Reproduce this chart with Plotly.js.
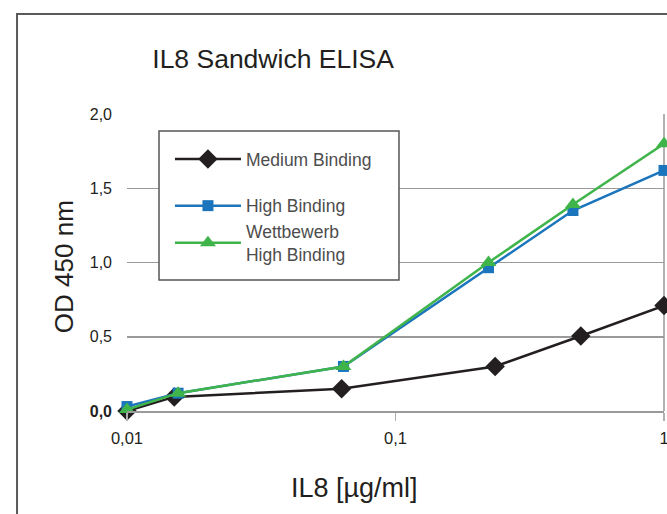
<!DOCTYPE html>
<html>
<head>
<meta charset="utf-8">
<script src="https://cdn.plot.ly/plotly-3.0.1.min.js"></script>
<style>html,body{margin:0;padding:0;background:#fff;}#chart{width:667px;height:514px;}</style>
</head>
<body>
<div id="chart"></div>
<script>
// Data
var mediumX = [0.01, 0.015, 0.063, 0.235, 0.49, 1];
var mediumY = [0.0, 0.095, 0.15, 0.30, 0.505, 0.71];
var highX = [0.01, 0.0155, 0.064, 0.222, 0.458, 1];
var highY = [0.03, 0.12, 0.30, 0.965, 1.35, 1.62];
var wettX = [0.01, 0.0155, 0.064, 0.222, 0.458, 1];
var wettY = [0.01, 0.12, 0.30, 1.0, 1.39, 1.80];
var seriesNames = ["Medium Binding", "High Binding", "Wettbewerb<br>High Binding"];
var yTickVals = [0, 0.5, 1, 1.5, 2];
var yTickText = ["<b>0,0</b>", "0,5", "1,0", "1,5", "2,0"];
var xTickVals = [0.01, 0.1, 1];
var xTickText = ["0,01", "0,1", "1"];

var sans = "Liberation Sans, Arial, Helvetica, sans-serif";

var traces = [
  {x: mediumX, y: mediumY, name: seriesNames[0], mode: "lines+markers", cliponaxis: false,
   line: {color: "#231f20", width: 2.5}, marker: {symbol: "diamond", size: 15, color: "#231f20"}, legendgroup: "a"},
  {x: highX, y: highY, name: seriesNames[1], mode: "lines+markers", cliponaxis: false,
   line: {color: "#1b75bc", width: 2.5}, marker: {symbol: "square", size: 11, color: "#1b75bc"}, legendgroup: "b"},
  {x: wettX, y: wettY, name: seriesNames[2], mode: "lines+markers", cliponaxis: false,
   line: {color: "#3fb44b", width: 2.5}, marker: {symbol: "triangle-up", size: 14, color: "#3fb44b"}, legendgroup: "b"}
];

var layout = {
  width: 667, height: 514,
  margin: {l: 127, r: 3, t: 114, b: 103},
  paper_bgcolor: "#fff", plot_bgcolor: "#fff",
  showlegend: true,
  title: {text: "IL8 Sandwich ELISA", xref: "paper", x: 0.272, xanchor: "center",
          yref: "container", y: 0.886, yanchor: "middle",
          font: {family: sans, size: 26.5, color: "#231f20"}},
  xaxis: {type: "log", range: [-2, 0], tickvals: xTickVals, ticktext: xTickText,
          showgrid: false, zeroline: false, showline: true, linecolor: "#9a9a9a", linewidth: 1.5,
          ticks: "outside", ticklen: 8, tickcolor: "#b0b0b0", tickwidth: 1.5, ticklabelstandoff: 4,
          ticklabeloverflow: "allow",
          tickfont: {family: sans, size: 16.5, color: "#231f20"}},
  yaxis: {range: [0, 2], tickvals: yTickVals, ticktext: yTickText, showgrid: true,
          gridcolor: "#9a9a9a", gridwidth: 1.5, zeroline: false, showline: false,
          ticks: "", ticklabelstandoff: 14,
          tickfont: {family: sans, size: 16, color: "#231f20"}},
  legend: {x: 0.08, y: 0.909, xanchor: "left", yanchor: "top",
           bgcolor: "rgba(0,0,0,0)", borderwidth: 0,
           font: {family: sans, size: 17.5, color: "#4d4d4d"},
           tracegroupgap: 21, itemwidth: 66},
  annotations: [
    {text: "IL8 [µg/ml]", xref: "paper", yref: "paper", x: 0.423, y: -0.259,
     xanchor: "center", yanchor: "middle", showarrow: false,
     font: {family: sans, size: 27, color: "#231f20"}},
    {text: "OD 450 nm", xref: "paper", yref: "paper", x: -0.117, y: 0.485,
     xanchor: "center", yanchor: "middle", showarrow: false, textangle: -90,
     font: {family: sans, size: 26, color: "#231f20"}}
  ],
  shapes: [
    {type: "rect", xref: "paper", yref: "paper", x0: -0.2048, x1: 1.2, y0: -0.6, y1: 1.3367,
     line: {color: "#5a5a5a", width: 2}, layer: "below"},
    {type: "line", xref: "paper", yref: "paper", x0: 1, x1: 1, y0: 0, y1: 1,
     line: {color: "#9a9a9a", width: 1.5}, layer: "below"},
    {type: "rect", xref: "paper", yref: "paper", x0: 0.0596, x1: 0.5065, y0: 0.441, y1: 0.9428,
     fillcolor: "#ffffff", line: {color: "#555555", width: 1.5}, layer: "above"}
  ]
};

Plotly.newPlot("chart", traces, layout, {displayModeBar: false, staticPlot: true});
</script>
</body>
</html>
